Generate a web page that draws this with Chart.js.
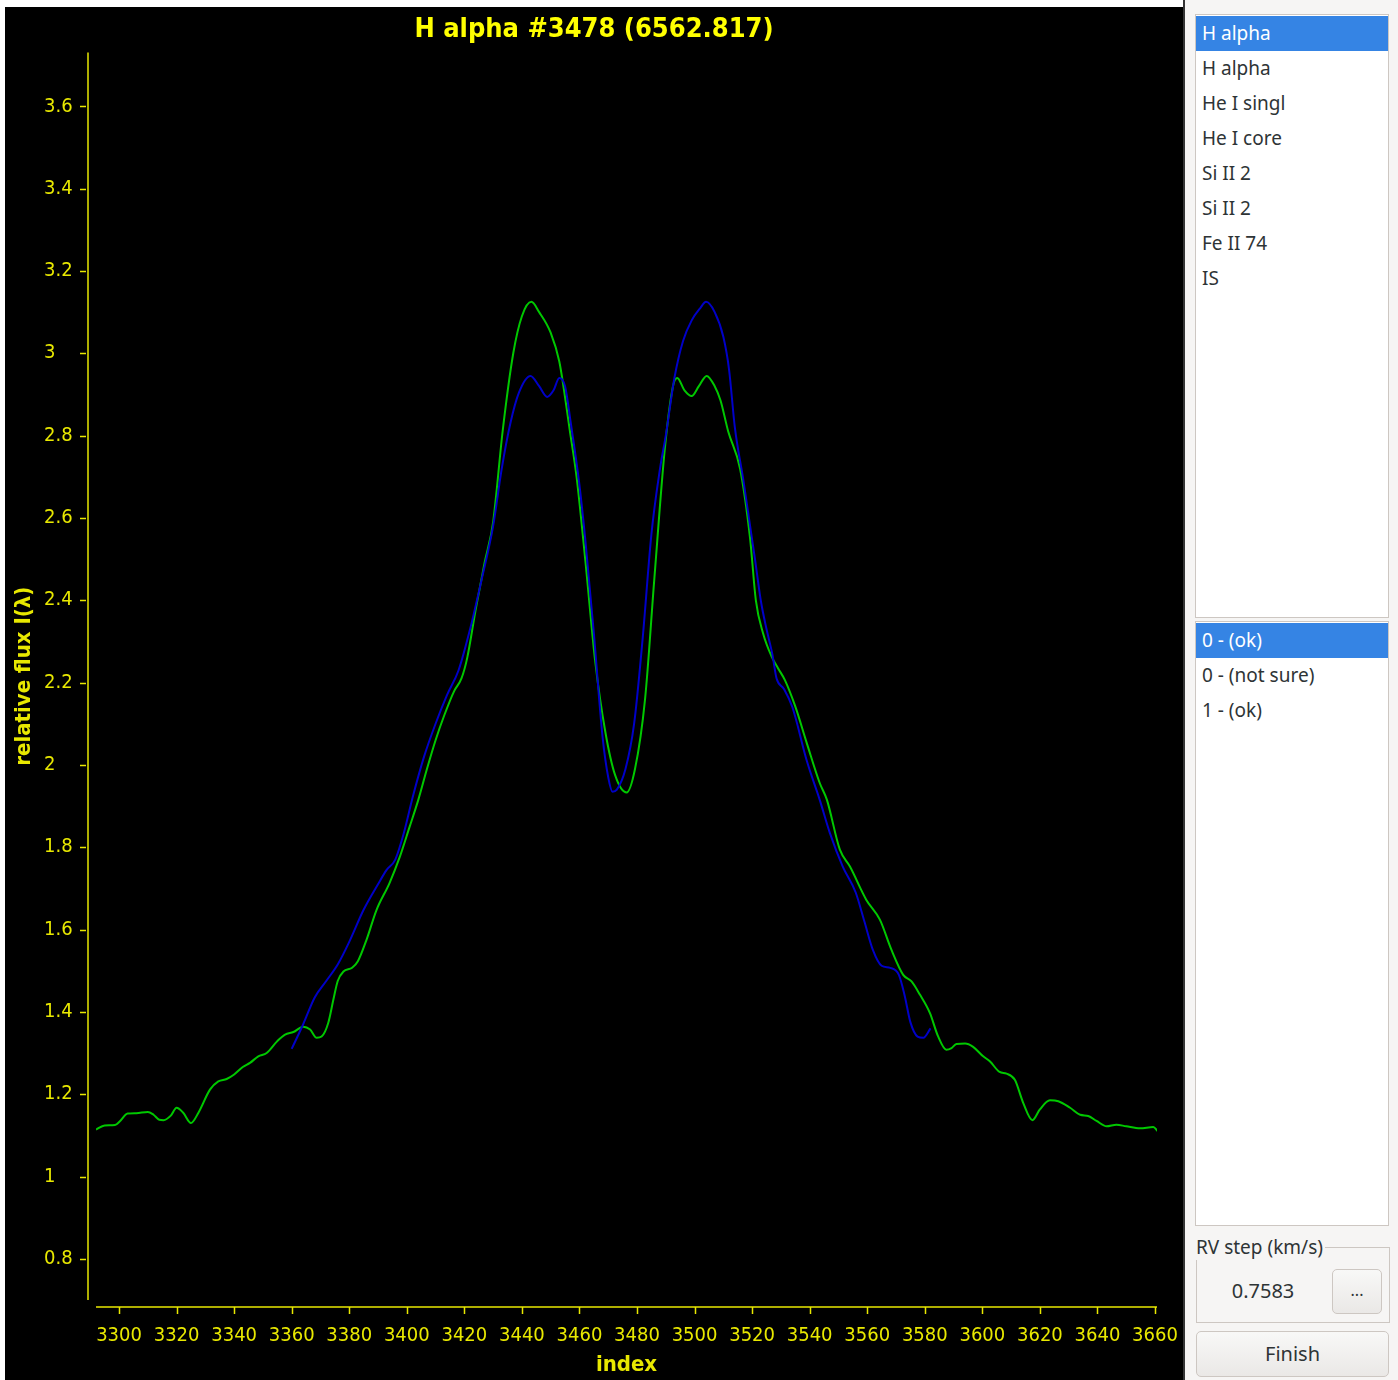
<!DOCTYPE html>
<html>
<head>
<meta charset="utf-8">
<script src="https://cdn.jsdelivr.net/npm/chart.js@4.4.1/dist/chart.umd.min.js"></script>
<style>
body { margin: 0; width: 1398px; height: 1380px; background: #fff; position: relative; overflow: hidden; font-family: "Noto Sans", sans-serif; }
#plot { position: absolute; left: 5px; top: 7px; width: 1178px; height: 1373px; background: #000; }
#spec { display: block; }
#side { position: absolute; left: 1183px; top: 0; width: 215px; height: 1380px; background: #f6f5f4; border-left: 2px solid #353535; box-sizing: border-box; color: #2e3436; }
.list { position: absolute; left: 10px; width: 194px; background: #fff; border: 1px solid #cdc7c2; box-sizing: border-box; }
.row { height: 35px; line-height: 35px; padding-left: 6px; font-size: 19px; white-space: nowrap; }
.row.sel { background: #3584e4; color: #fff; }
#frameLabel { position: absolute; left: 11px; top: 1234px; font-size: 19px; background: #f6f5f4; padding-right: 2px; }
#frame { position: absolute; left: 11px; top: 1247px; width: 194px; height: 76px; border: 1px solid #cdc7c2; box-sizing: border-box; }
#val { position: absolute; left: 1195px; top: 1277px; width: 136px; text-align: center; font-size: 20px; color: #2e3436; }
.btn { position: absolute; border: 1px solid #cdc7c2; border-radius: 5px; background: linear-gradient(#f8f8f7, #eae8e6); box-sizing: border-box; text-align: center; font-size: 20px; color: #2e3436; }
</style>
</head>
<body>
<div id="plot"><canvas id="spec" width="1178" height="1373"></canvas></div>
<div id="side">
  <div class="list" style="top:14px;height:604px;padding-top:1px">
    <div class="row sel">H alpha</div>
    <div class="row">H alpha</div>
    <div class="row">He I singl</div>
    <div class="row">He I core</div>
    <div class="row">Si II 2</div>
    <div class="row">Si II 2</div>
    <div class="row">Fe II 74</div>
    <div class="row">IS</div>
  </div>
  <div class="list" style="top:621px;height:605px;padding-top:1px">
    <div class="row sel">0 - (ok)</div>
    <div class="row">0 - (not sure)</div>
    <div class="row">1 - (ok)</div>
  </div>
  <div id="frame"></div>
  <div id="frameLabel">RV step (km/s)</div>
</div>
<div id="val">0.7583</div>
<div class="btn" style="left:1332px;top:1269px;width:50px;height:45px;line-height:40px;font-size:16px">...</div>
<div class="btn" style="left:1196px;top:1331px;width:193px;height:46px;line-height:44px">Finish</div>

<script>
// observed spectrum (green)
const greenIndex = [3292, 3295, 3298.6, 3300.3, 3303, 3306, 3310, 3312, 3314, 3315.5, 3318, 3320, 3322.3, 3325, 3327.6,
  3331.6, 3334.5, 3337.4, 3340, 3343, 3345.5, 3348.4, 3351.3, 3355, 3357.7, 3360.6, 3364, 3366.4, 3368.7, 3370.4,
  3372.7, 3374.5, 3376, 3378, 3381, 3383, 3386, 3389.5, 3394, 3397.6, 3401, 3404, 3407, 3410, 3413, 3416.5, 3419,
  3421, 3424, 3427, 3430, 3433.3, 3437, 3440, 3443.3, 3446, 3450, 3453, 3456.7, 3459, 3462, 3465.5, 3469, 3472.4,
  3476.4, 3479.3, 3482.8, 3486, 3489.7, 3492.5, 3494, 3496.5, 3499, 3501.5, 3504.2, 3507, 3509, 3511.7, 3515.8,
  3519.3, 3521.3, 3523.8, 3526.8, 3529, 3531.4, 3535, 3539, 3543.5, 3546, 3550.5, 3554, 3559.7, 3564.4, 3568.4,
  3572.5, 3575.4, 3578.3, 3581.8, 3584.6, 3587.5, 3589.3, 3591, 3594, 3596.8, 3600.3, 3602.6, 3606, 3608.4, 3611.3,
  3614.2, 3617.4, 3620, 3623.5, 3626.4, 3630.5, 3634, 3636.8, 3639.7, 3643.2, 3646.6, 3650, 3654.8, 3659.4, 3661];
const greenFlux = [1.114, 1.124, 1.125, 1.134, 1.153, 1.154, 1.157, 1.150, 1.138, 1.137, 1.148, 1.167, 1.155, 1.130, 1.155,
  1.211, 1.231, 1.237, 1.248, 1.266, 1.276, 1.292, 1.300, 1.329, 1.345, 1.351, 1.364, 1.357, 1.337, 1.340,
  1.373, 1.43, 1.475, 1.498, 1.507, 1.523, 1.575, 1.648, 1.713, 1.777, 1.85, 1.915, 1.99, 2.06, 2.12, 2.18, 2.21,
  2.26, 2.38, 2.49, 2.59, 2.81, 3.0, 3.09, 3.125, 3.10, 3.05, 2.98, 2.81, 2.70, 2.50, 2.25, 2.08, 1.975,
  1.933, 1.99, 2.16, 2.45, 2.77, 2.92, 2.94, 2.91, 2.896, 2.92, 2.945, 2.92, 2.886, 2.81, 2.72,
  2.55, 2.40, 2.32, 2.263, 2.235, 2.206, 2.142, 2.053, 1.956, 1.915, 1.794, 1.753, 1.672, 1.624, 1.551,
  1.49, 1.474, 1.442, 1.397, 1.341, 1.308, 1.312, 1.322, 1.323, 1.315, 1.292, 1.28, 1.254, 1.25, 1.235,
  1.179, 1.137, 1.163, 1.185, 1.183, 1.167, 1.15, 1.147, 1.135, 1.122, 1.126, 1.122, 1.117, 1.12, 1.11];

// flipped profile (blue)
const blueIndex = [3360, 3364, 3368, 3372, 3376, 3380, 3385, 3390, 3393, 3396, 3399, 3402, 3406, 3410, 3414, 3418,
  3422, 3426, 3430, 3433, 3436, 3439, 3443, 3446, 3448.8, 3451, 3453, 3455, 3457, 3460, 3462, 3465, 3468, 3470,
  3471.5, 3473, 3476, 3479, 3482, 3485, 3488, 3490, 3493, 3496, 3499, 3502, 3504, 3507, 3510, 3512, 3514, 3517,
  3521, 3523, 3525, 3527, 3528.5, 3531, 3534, 3539, 3543.5, 3547, 3551.5, 3556, 3559, 3562, 3565, 3568, 3571,
  3573, 3575, 3577.5, 3579.5, 3582];
const blueFlux = [1.31, 1.37, 1.435, 1.475, 1.515, 1.57, 1.648, 1.71, 1.745, 1.77, 1.835, 1.92, 2.02, 2.10, 2.17, 2.23,
  2.33, 2.45, 2.58, 2.72, 2.83, 2.905, 2.945, 2.92, 2.894, 2.91, 2.94, 2.92, 2.83, 2.68, 2.55, 2.32, 2.07, 1.97,
  1.935, 1.94, 1.99, 2.10, 2.31, 2.56, 2.72, 2.80, 2.94, 3.03, 3.08, 3.11, 3.125, 3.10, 3.04, 2.96, 2.82, 2.69,
  2.50, 2.40, 2.33, 2.27, 2.21, 2.185, 2.14, 2.01, 1.915, 1.835, 1.753, 1.69, 1.62, 1.55, 1.512, 1.507, 1.49,
  1.44, 1.375, 1.34, 1.337, 1.36];

const xTicks = [3300, 3320, 3340, 3360, 3380, 3400, 3420, 3440, 3460, 3480, 3500, 3520, 3540, 3560, 3580, 3600, 3620, 3640, 3660];
const yTicks = [0.8, 1, 1.2, 1.4, 1.6, 1.8, 2, 2.2, 2.4, 2.6, 2.8, 3, 3.2, 3.4, 3.6];

const yellow = '#e8e800';
const fam = "'DejaVu Sans Condensed', 'DejaVu Sans', sans-serif";

const axisLines = {
  id: 'axisLines',
  afterLayout(chart) {
    chart.scales.y.left += 13;
  },
  afterDraw(chart) {
    const { ctx, chartArea: a, scales: { x, y } } = chart;
    ctx.save();
    ctx.strokeStyle = yellow;
    ctx.lineWidth = 1.5;
    ctx.beginPath();
    ctx.moveTo(a.left - 8, a.top);
    ctx.lineTo(a.left - 8, a.bottom);
    ctx.moveTo(a.left, a.bottom + 7);
    ctx.lineTo(a.right, a.bottom + 7);
    yTicks.forEach(v => {
      const p = Math.round(y.getPixelForValue(v)) + 0.5;
      ctx.moveTo(a.left - 16, p);
      ctx.lineTo(a.left - 10, p);
    });
    xTicks.forEach(v => {
      const p = Math.round(x.getPixelForValue(v)) + 0.5;
      ctx.moveTo(p, a.bottom + 7);
      ctx.lineTo(p, a.bottom + 14);
    });
    ctx.stroke();
    ctx.restore();
  }
};

const ctx = document.getElementById('spec');

var specChart = new Chart(ctx, {
  type: 'line',
  data: {
    datasets: [
      {
        label: 'flipped',
        data: blueIndex.map((v, i) => ({ x: v, y: blueFlux[i] })),
        borderColor: '#0000c8',
        borderWidth: 2,
        pointRadius: 0,
        cubicInterpolationMode: 'monotone'
      },
      {
        label: 'observed',
        data: greenIndex.map((v, i) => ({ x: v, y: greenFlux[i] })),
        borderColor: '#00c800',
        borderWidth: 2,
        pointRadius: 0,
        cubicInterpolationMode: 'monotone'
      }
    ]
  },
  options: {
    responsive: false,
    animation: false,
    layout: { padding: { left: 26, right: 26, top: 0, bottom: 0 } },
    plugins: {
      legend: { display: false },
      tooltip: { enabled: false },
      title: {
        display: true,
        text: 'H alpha #3478 (6562.817)',
        color: '#ffff00',
        font: { family: fam, size: 27, weight: 'bold' },
        padding: { top: 7, bottom: 6 }
      }
    },
    scales: {
      x: {
        type: 'linear',
        min: 3292,
        max: 3660.7,
        afterBuildTicks: s => { s.ticks = xTicks.map(v => ({ value: v })); },
        afterFit: s => { s.height = 80; s.paddingLeft = 0; s.paddingRight = 0; },
        grid: { display: false, drawTicks: false },
        border: { display: false },
        ticks: { color: yellow, font: { family: fam, size: 20 }, padding: 24, maxRotation: 0, autoSkip: false,
          callback: v => String(v) },
        title: { display: true, text: 'index', color: yellow, font: { family: fam, size: 22, weight: 'bold' }, padding: { top: 0, bottom: 2 } }
      },
      y: {
        min: 0.7,
        max: 3.731,
        afterBuildTicks: s => { s.ticks = yTicks.map(v => ({ value: v })); },
        afterFit: s => { s.width = 65; s.paddingTop = 0; s.paddingBottom = 0; },
        grid: { display: false, drawTicks: false },
        border: { display: false },
        ticks: {
          color: yellow, font: { family: fam, size: 20 }, crossAlign: 'far', autoSkip: false,
          callback: v => String(Math.round(v * 10) / 10)
        },
        title: { display: true, text: 'relative flux I(λ)', color: yellow, font: { family: fam, size: 22, weight: 'bold' }, padding: { top: -33, bottom: 0 } }
      }
    }
  },
  plugins: [axisLines]
});
</script>
</body>
</html>
